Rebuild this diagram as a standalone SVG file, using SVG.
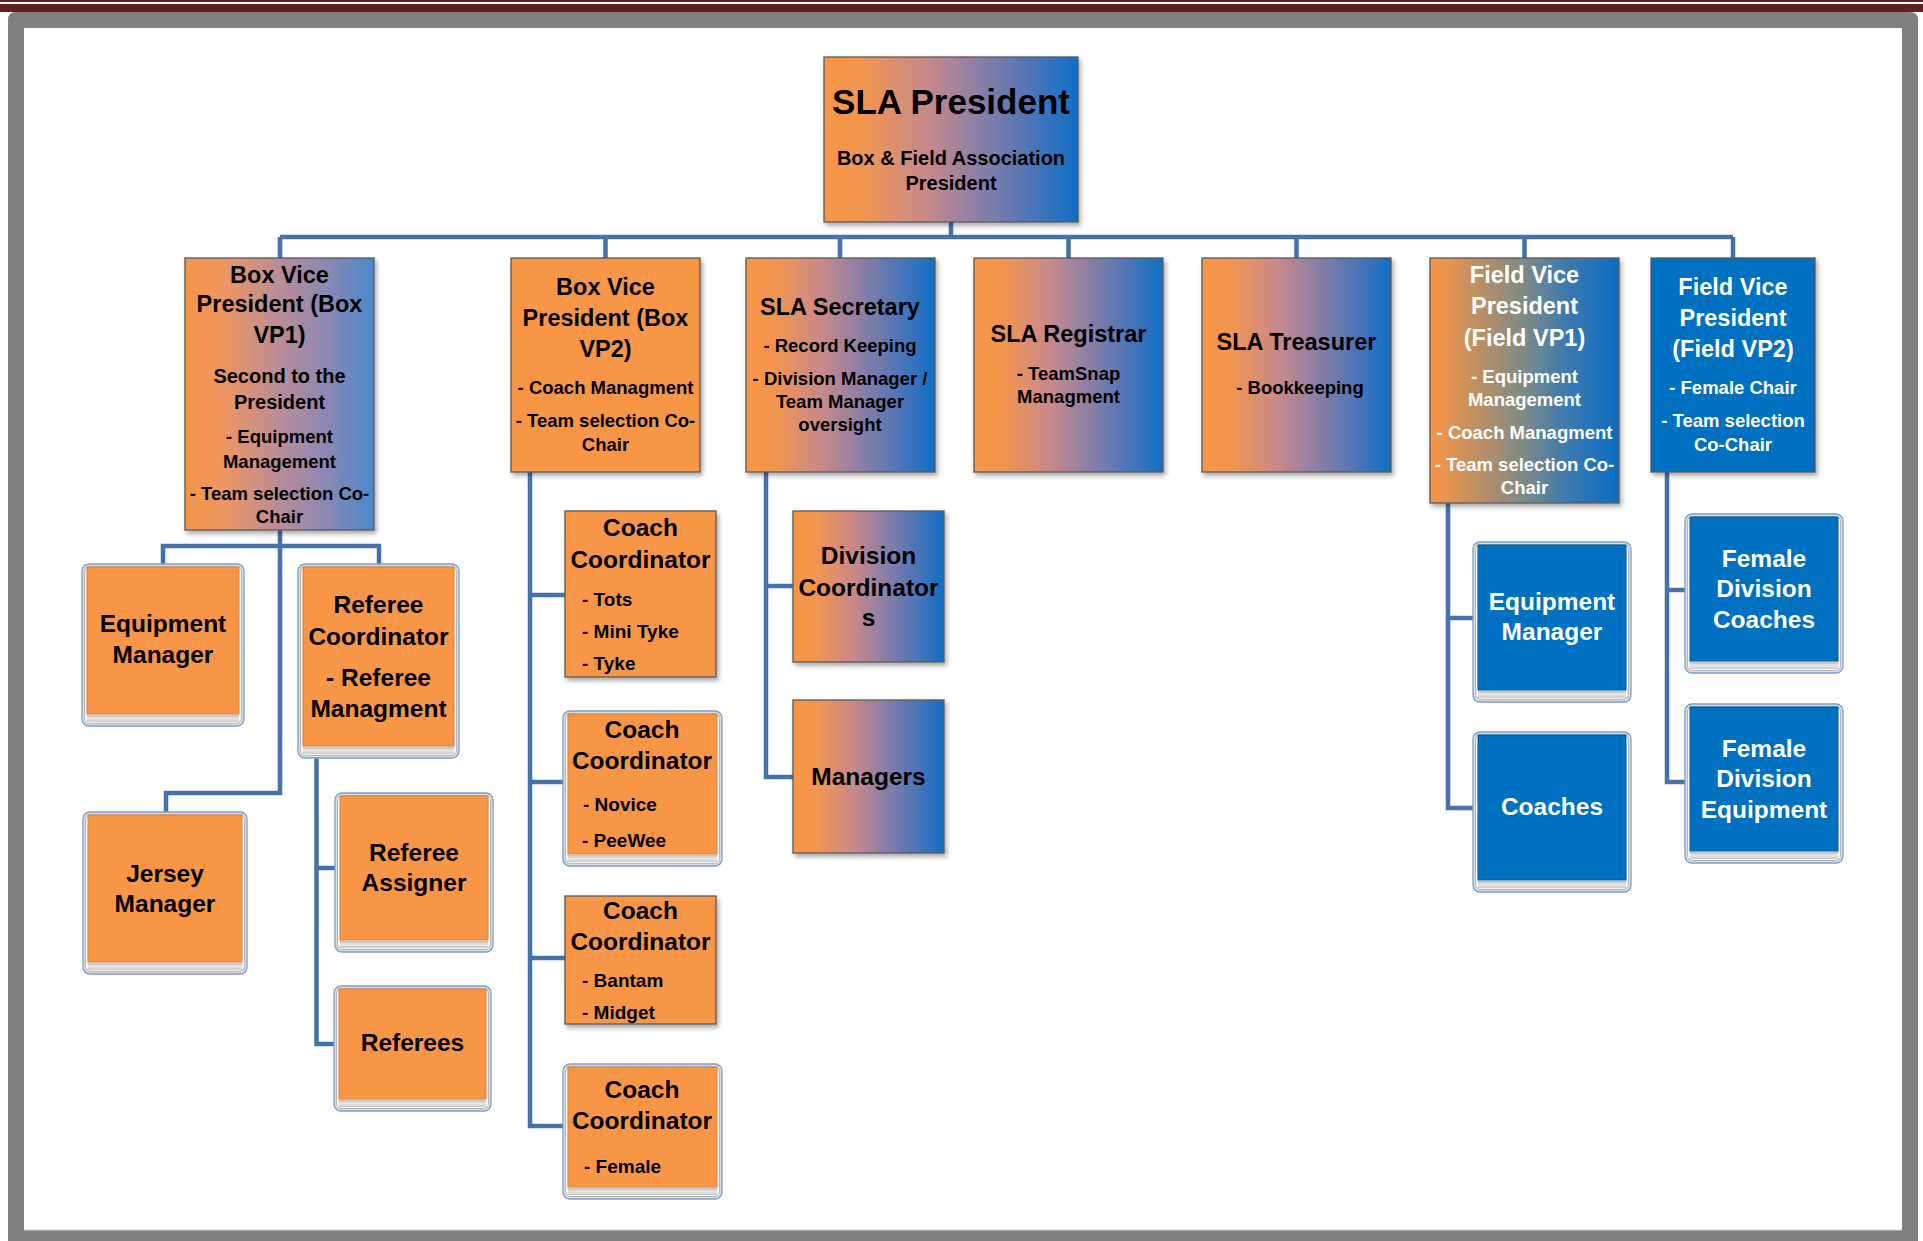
<svg xmlns="http://www.w3.org/2000/svg" width="1923" height="1241" viewBox="0 0 1923 1241">
<defs>
<style>
.t{font-family:"Liberation Sans",Arial,sans-serif;font-weight:bold;text-anchor:middle;fill:#000}
.w{fill:#fff}
.l{text-anchor:start}
.s35{font-size:35px}.s24{font-size:23.5px}.s20{font-size:20px}.s18{font-size:18.5px}.s25{font-size:24.5px}.s19{font-size:19px}
.box{stroke:#5a5a5a;stroke-width:1.3;filter:url(#sh)}
.conn{fill:none;stroke:#4672ac;stroke-width:4.5;stroke-linejoin:miter;stroke-linecap:butt}
.bo{fill:#dcdcdc;stroke:#7b9fcf;stroke-width:1.3}
.bi{fill:#f5f5f5;stroke:#a9a9a9;stroke-width:0.8}
.fo{fill:#F79646;stroke:#d9823c;stroke-width:1}
.fb{fill:#0070C0;stroke:#005a9c;stroke-width:1}
.bs{fill:url(#bevB)}
</style>
<linearGradient id="gOB" x1="0" y1="0" x2="1" y2="0">
<stop offset="0" stop-color="#F79646"/><stop offset="0.15" stop-color="#F2954F"/><stop offset="0.4" stop-color="#C9898A"/><stop offset="0.58" stop-color="#9480A3"/><stop offset="0.8" stop-color="#5275B6"/><stop offset="1" stop-color="#0F6FC6"/>
</linearGradient>
<linearGradient id="gVP1" x1="0" y1="0" x2="1" y2="0">
<stop offset="0" stop-color="#F5964A"/><stop offset="0.2" stop-color="#EE9660"/><stop offset="0.5" stop-color="#BA8C98"/><stop offset="0.75" stop-color="#8B88B4"/><stop offset="1" stop-color="#4A89CA"/>
</linearGradient>
<linearGradient id="gFVP1" x1="0" y1="0" x2="1" y2="0">
<stop offset="0" stop-color="#F49446"/><stop offset="0.08" stop-color="#E99450"/><stop offset="0.3" stop-color="#B28E6A"/><stop offset="0.5" stop-color="#7D8A88"/><stop offset="0.72" stop-color="#3D7AAF"/><stop offset="1" stop-color="#0A6CC2"/>
</linearGradient>
<linearGradient id="bevB" x1="0" y1="0" x2="0" y2="1">
<stop offset="0" stop-color="#bdbdbd"/><stop offset="0.5" stop-color="#e6e6e6"/><stop offset="1" stop-color="#c9c9c9"/>
</linearGradient>
<filter id="sh" x="-10%" y="-10%" width="130%" height="130%">
<feDropShadow dx="2" dy="3" stdDeviation="2.5" flood-color="#000" flood-opacity="0.35"/>
</filter>
</defs>

<g id="frame">
<rect x="0" y="0" width="1923" height="2" fill="#652121"/>
<rect x="0" y="4" width="1923" height="8" fill="#652121"/>
<path d="M8,1241 V20 Q8,12 16,12 H1910 Q1918,12 1918,20 V1241 Z" fill="#808080"/>
<rect x="24" y="28" width="1878" height="1202" fill="#ffffff"/>
<line x1="24" y1="1230" x2="1902" y2="1230" stroke="#d0d0d0" stroke-width="1"/>
</g>

<g id="connectors">
<path class="conn" d="M951,222 V237"/>
<path class="conn" d="M280,237 H1733"/>
<path class="conn" d="M280,237 V258 M605.5,237 V258 M840,237 V258 M1068.5,237 V258 M1296.5,237 V258 M1524.5,237 V258 M1733,237 V258"/>
<path class="conn" d="M280,530 V793 H166 V812 M163,564 V546 H379 V564"/>
<path class="conn" d="M316.5,758 V1044 H335 M316.5,868 H335"/>
<path class="conn" d="M530,472 V1126 H563 M530,595 H565 M530,782 H563 M530,958 H565"/>
<path class="conn" d="M766,472 V777 H793 M766,586 H793"/>
<path class="conn" d="M1448,503 V808 H1473 M1448,618 H1473"/>
<path class="conn" d="M1667,472 V782 H1685 M1667,590 H1685"/>
</g>

<g id="president">
<rect class="box" x="824" y="57" width="254" height="165" fill="url(#gOB)"/>
<text class="t s35" x="951" y="114">SLA President</text>
<text class="t s20" x="951" y="165">Box &amp; Field Association</text>
<text class="t s20" x="951" y="190">President</text>
</g>

<g id="box-vp1">
<rect class="box" x="185" y="258" width="189" height="272" fill="url(#gVP1)"/>
<text class="t s24" x="279.5" y="283">Box Vice</text>
<text class="t s24" x="279.5" y="312">President (Box</text>
<text class="t s24" x="279.5" y="343">VP1)</text>
<text class="t s20" x="279.5" y="383">Second to the</text>
<text class="t s20" x="279.5" y="409">President</text>
<text class="t s18" x="279.5" y="443">- Equipment</text>
<text class="t s18" x="279.5" y="468">Management</text>
<text class="t s18" x="279.5" y="500">- Team selection Co-</text>
<text class="t s18" x="279.5" y="523">Chair</text>
</g>

<g id="box-vp2">
<rect class="box" x="511" y="258" width="189" height="214" fill="#F79646"/>
<text class="t s24" x="605.5" y="295">Box Vice</text>
<text class="t s24" x="605.5" y="326">President (Box</text>
<text class="t s24" x="605.5" y="357">VP2)</text>
<text class="t s18" x="605.5" y="394">- Coach Managment</text>
<text class="t s18" x="605.5" y="427">- Team selection Co-</text>
<text class="t s18" x="605.5" y="451">Chair</text>
</g>

<g id="secretary">
<rect class="box" x="746" y="258" width="189" height="214" fill="url(#gOB)"/>
<text class="t s24" x="840" y="315">SLA Secretary</text>
<text class="t s18" x="840" y="352">- Record Keeping</text>
<text class="t s18" x="840" y="385">- Division Manager /</text>
<text class="t s18" x="840" y="408">Team Manager</text>
<text class="t s18" x="840" y="431">oversight</text>
</g>

<g id="registrar">
<rect class="box" x="974" y="258" width="189" height="214" fill="url(#gOB)"/>
<text class="t s24" x="1068.5" y="342">SLA Registrar</text>
<text class="t s18" x="1068.5" y="380">- TeamSnap</text>
<text class="t s18" x="1068.5" y="403">Managment</text>
</g>

<g id="treasurer">
<rect class="box" x="1202" y="258" width="189" height="214" fill="url(#gOB)"/>
<text class="t s24" x="1296.5" y="350">SLA Treasurer</text>
<text class="t s18" x="1300" y="394">- Bookkeeping</text>
</g>

<g id="field-vp1">
<rect class="box" x="1430" y="258" width="189" height="245" fill="url(#gFVP1)"/>
<text class="t w s24" x="1524.5" y="283">Field Vice</text>
<text class="t w s24" x="1524.5" y="314">President</text>
<text class="t w s24" x="1524.5" y="346">(Field VP1)</text>
<text class="t w s18" x="1524.5" y="383">- Equipment</text>
<text class="t w s18" x="1524.5" y="406">Management</text>
<text class="t w s18" x="1524.5" y="439">- Coach Managment</text>
<text class="t w s18" x="1524.5" y="471">- Team selection Co-</text>
<text class="t w s18" x="1524.5" y="494">Chair</text>
</g>

<g id="field-vp2">
<rect class="box" x="1651" y="258" width="164" height="214" fill="#0070C0"/>
<text class="t w s24" x="1733" y="295">Field Vice</text>
<text class="t w s24" x="1733" y="326">President</text>
<text class="t w s24" x="1733" y="357">(Field VP2)</text>
<text class="t w s18" x="1733" y="394">- Female Chair</text>
<text class="t w s18" x="1733" y="427">- Team selection</text>
<text class="t w s18" x="1733" y="451">Co-Chair</text>
</g>

<g id="equipment-manager-box">
<rect class="bo" x="82" y="564" width="162" height="162" rx="7"/>
<rect class="bi" x="84.5" y="566.5" width="157" height="157" rx="5"/>
<rect class="fo" x="87" y="567" width="152" height="147"/>
<rect class="bs" x="87" y="715" width="152" height="7"/>
<text class="t s25" x="163" y="632">Equipment</text>
<text class="t s25" x="163" y="663">Manager</text>
</g>

<g id="referee-coordinator">
<rect class="bo" x="298" y="564" width="161" height="194" rx="7"/>
<rect class="bi" x="300.5" y="566.5" width="156" height="189" rx="5"/>
<rect class="fo" x="303" y="567" width="151" height="179"/>
<rect class="bs" x="303" y="747" width="151" height="7"/>
<text class="t s25" x="378.5" y="613">Referee</text>
<text class="t s25" x="378.5" y="645">Coordinator</text>
<text class="t s25" x="378.5" y="686">- Referee</text>
<text class="t s25" x="378.5" y="717">Managment</text>
</g>

<g id="jersey-manager">
<rect class="bo" x="83" y="812" width="164" height="162" rx="7"/>
<rect class="bi" x="85.5" y="814.5" width="159" height="157" rx="5"/>
<rect class="fo" x="88" y="815" width="154" height="147"/>
<rect class="bs" x="88" y="963" width="154" height="7"/>
<text class="t s25" x="165" y="882">Jersey</text>
<text class="t s25" x="165" y="912">Manager</text>
</g>

<g id="referee-assigner">
<rect class="bo" x="335" y="793" width="158" height="159" rx="7"/>
<rect class="bi" x="337.5" y="795.5" width="153" height="154" rx="5"/>
<rect class="fo" x="340" y="796" width="148" height="144"/>
<rect class="bs" x="340" y="941" width="148" height="7"/>
<text class="t s25" x="414" y="861">Referee</text>
<text class="t s25" x="414" y="891">Assigner</text>
</g>

<g id="referees">
<rect class="bo" x="334" y="986" width="157" height="125" rx="7"/>
<rect class="bi" x="336.5" y="988.5" width="152" height="120" rx="5"/>
<rect class="fo" x="339" y="989" width="147" height="110"/>
<rect class="bs" x="339" y="1100" width="147" height="7"/>
<text class="t s25" x="412.5" y="1051">Referees</text>
</g>

<g id="coach-coordinator-1">
<rect class="box" x="565" y="511" width="151" height="166" fill="#F79646"/>
<text class="t s25" x="640.5" y="536">Coach</text>
<text class="t s25" x="640.5" y="568">Coordinator</text>
<text class="t l s19" x="582" y="606">- Tots</text>
<text class="t l s19" x="582" y="638">- Mini Tyke</text>
<text class="t l s19" x="582" y="670">- Tyke</text>
</g>

<g id="coach-coordinator-2">
<rect class="bo" x="563" y="711" width="159" height="155" rx="7"/>
<rect class="bi" x="565.5" y="713.5" width="154" height="150" rx="5"/>
<rect class="fo" x="568" y="714" width="149" height="140"/>
<rect class="bs" x="568" y="855" width="149" height="7"/>
<text class="t s25" x="642" y="738">Coach</text>
<text class="t s25" x="642" y="769">Coordinator</text>
<text class="t l s19" x="583" y="811">- Novice</text>
<text class="t l s19" x="582" y="847">- PeeWee</text>
</g>

<g id="coach-coordinator-3">
<rect class="box" x="565" y="896" width="151" height="128" fill="#F79646"/>
<text class="t s25" x="640.5" y="919">Coach</text>
<text class="t s25" x="640.5" y="950">Coordinator</text>
<text class="t l s19" x="582" y="987">- Bantam</text>
<text class="t l s19" x="582" y="1019">- Midget</text>
</g>

<g id="coach-coordinator-4">
<rect class="bo" x="563" y="1064" width="159" height="135" rx="7"/>
<rect class="bi" x="565.5" y="1066.5" width="154" height="130" rx="5"/>
<rect class="fo" x="568" y="1067" width="149" height="120"/>
<rect class="bs" x="568" y="1188" width="149" height="7"/>
<text class="t s25" x="642" y="1098">Coach</text>
<text class="t s25" x="642" y="1129">Coordinator</text>
<text class="t l s19" x="584" y="1173">- Female</text>
</g>

<g id="division-coordinators">
<rect class="box" x="793" y="511" width="151" height="151" fill="url(#gOB)"/>
<text class="t s25" x="868.5" y="564">Division</text>
<text class="t s25" x="868.5" y="596">Coordinator</text>
<text class="t s25" x="868.5" y="626">s</text>
</g>

<g id="managers">
<rect class="box" x="793" y="700" width="151" height="153" fill="url(#gOB)"/>
<text class="t s25" x="868.5" y="785">Managers</text>
</g>

<g id="field-equipment-manager">
<rect class="bo" x="1473" y="542" width="158" height="160" rx="7"/>
<rect class="bi" x="1475.5" y="544.5" width="153" height="155" rx="5"/>
<rect class="fb" x="1478" y="545" width="148" height="145"/>
<rect class="bs" x="1478" y="691" width="148" height="7"/>
<text class="t w s25" x="1552" y="610">Equipment</text>
<text class="t w s25" x="1552" y="640">Manager</text>
</g>

<g id="coaches">
<rect class="bo" x="1473" y="732" width="158" height="160" rx="7"/>
<rect class="bi" x="1475.5" y="734.5" width="153" height="155" rx="5"/>
<rect class="fb" x="1478" y="735" width="148" height="145"/>
<rect class="bs" x="1478" y="881" width="148" height="7"/>
<text class="t w s25" x="1552" y="815">Coaches</text>
</g>

<g id="female-division-coaches">
<rect class="bo" x="1685" y="514" width="158" height="159" rx="7"/>
<rect class="bi" x="1687.5" y="516.5" width="153" height="154" rx="5"/>
<rect class="fb" x="1690" y="517" width="148" height="144"/>
<rect class="bs" x="1690" y="662" width="148" height="7"/>
<text class="t w s25" x="1764" y="567">Female</text>
<text class="t w s25" x="1764" y="597">Division</text>
<text class="t w s25" x="1764" y="628">Coaches</text>
</g>

<g id="female-division-equipment">
<rect class="bo" x="1685" y="704" width="158" height="159" rx="7"/>
<rect class="bi" x="1687.5" y="706.5" width="153" height="154" rx="5"/>
<rect class="fb" x="1690" y="707" width="148" height="144"/>
<rect class="bs" x="1690" y="852" width="148" height="7"/>
<text class="t w s25" x="1764" y="757">Female</text>
<text class="t w s25" x="1764" y="787">Division</text>
<text class="t w s25" x="1764" y="818">Equipment</text>
</g>
</svg>
